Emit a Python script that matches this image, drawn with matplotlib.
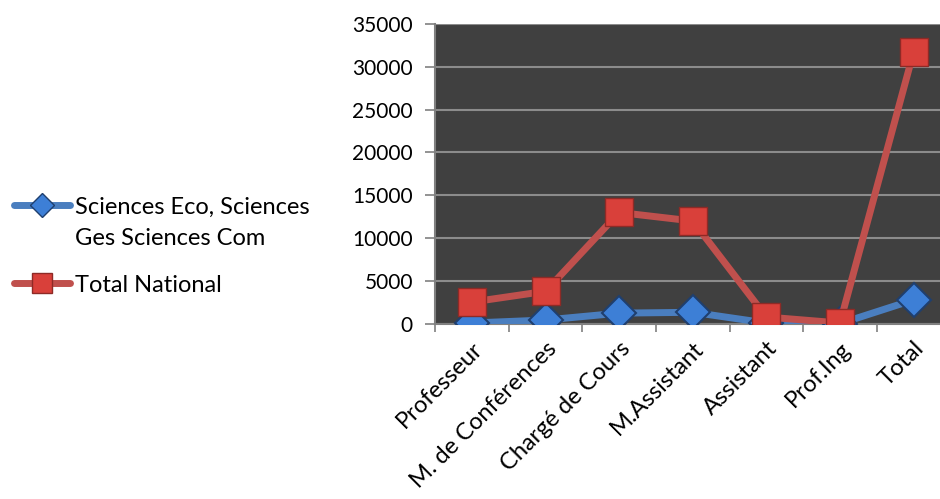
import matplotlib
matplotlib.use("Agg")
import matplotlib.pyplot as plt
from matplotlib.lines import Line2D
import numpy as np

plt.rcParams['font.family'] = ['Lato', 'DejaVu Sans']

categories = ["Professeur", "M. de Conférences", "Chargé de Cours", "M.Assistant",
              "Assistant", "Prof.Ing", "Total"]
sciences_eco = [100, 450, 1250, 1350, 100, 30, 2800]
total_national = [2550, 3800, 13000, 12000, 800, 100, 31700]
series_names = ["Sciences Eco, Sciences\nGes Sciences Com", "Total National"]
yticks = [0, 5000, 10000, 15000, 20000, 25000, 30000, 35000]

W, H = 940, 499
fig = plt.figure(figsize=(W / 100, H / 100), dpi=100)
ax = fig.add_axes([0.463, 0.351, 0.548, 0.601])
ax.set_facecolor('#404040')

blue_style = dict(color='#4a7ebf', lw=5, marker='D', mfc='#3d7fd6', mec='#1f3f6e',
                  mew=1.5, solid_capstyle='round')
red_style = dict(color='#c0504d', lw=5, marker='s', mfc='#d9403a', mec='#8e2a26',
                 mew=1, solid_capstyle='round')

x = np.arange(len(categories))
ax.plot(x, sciences_eco, ms=17, zorder=3, **blue_style)
ax.plot(x, total_national, ms=20, zorder=4, **red_style)

ax.set_xlim(-0.5, len(categories) - 0.5)
ax.set_ylim(0, 35000)
ax.set_yticks(yticks)
ax.set_yticklabels([str(v) for v in yticks], fontsize=15)
ax.yaxis.grid(True, color='#8c8c8c', lw=1.5)
ax.set_axisbelow(True)

ax.set_xticks(x)
ax.set_xticklabels(categories, rotation=45, ha='right', va='top',
                   rotation_mode='anchor', fontsize=17)
ax.set_xticks(np.arange(-0.5, len(categories)), minor=True)
ax.tick_params(axis='x', which='major', length=0, pad=10)
ax.tick_params(axis='x', which='minor', length=6, color='#808080', width=1.2)
ax.tick_params(axis='y', length=7, color='#808080', width=1.2, pad=9)

for side in ['top', 'right']:
    ax.spines[side].set_visible(False)
for side in ['left', 'bottom']:
    ax.spines[side].set_color('#808080')
    ax.spines[side].set_linewidth(1.5)

# legend drawn by hand, in pixel positions of the figure
def fx(px):
    return px / W

def fy(py):
    return 1 - py / H

legend_rows = [(series_names[0], blue_style, 12, 205),
               (series_names[1], red_style, 14, 283)]
for name, style, ms, ypix in legend_rows:
    line_style = {k: v for k, v in style.items() if k != 'marker'}
    fig.add_artist(Line2D([fx(14), fx(70)], [fy(ypix), fy(ypix)],
                          transform=fig.transFigure, **line_style))
    fig.add_artist(Line2D([fx(42)], [fy(ypix)], transform=fig.transFigure,
                          marker=style['marker'], ms=ms, mfc=style['mfc'],
                          mec=style['mec'], mew=1, ls='none'))
    for i, part in enumerate(name.split('\n')):
        fig.text(fx(75), fy(ypix + 32 * i), part, fontsize=17, ha='left',
                 va='center_baseline')

fig.savefig("out.png", dpi=100)
